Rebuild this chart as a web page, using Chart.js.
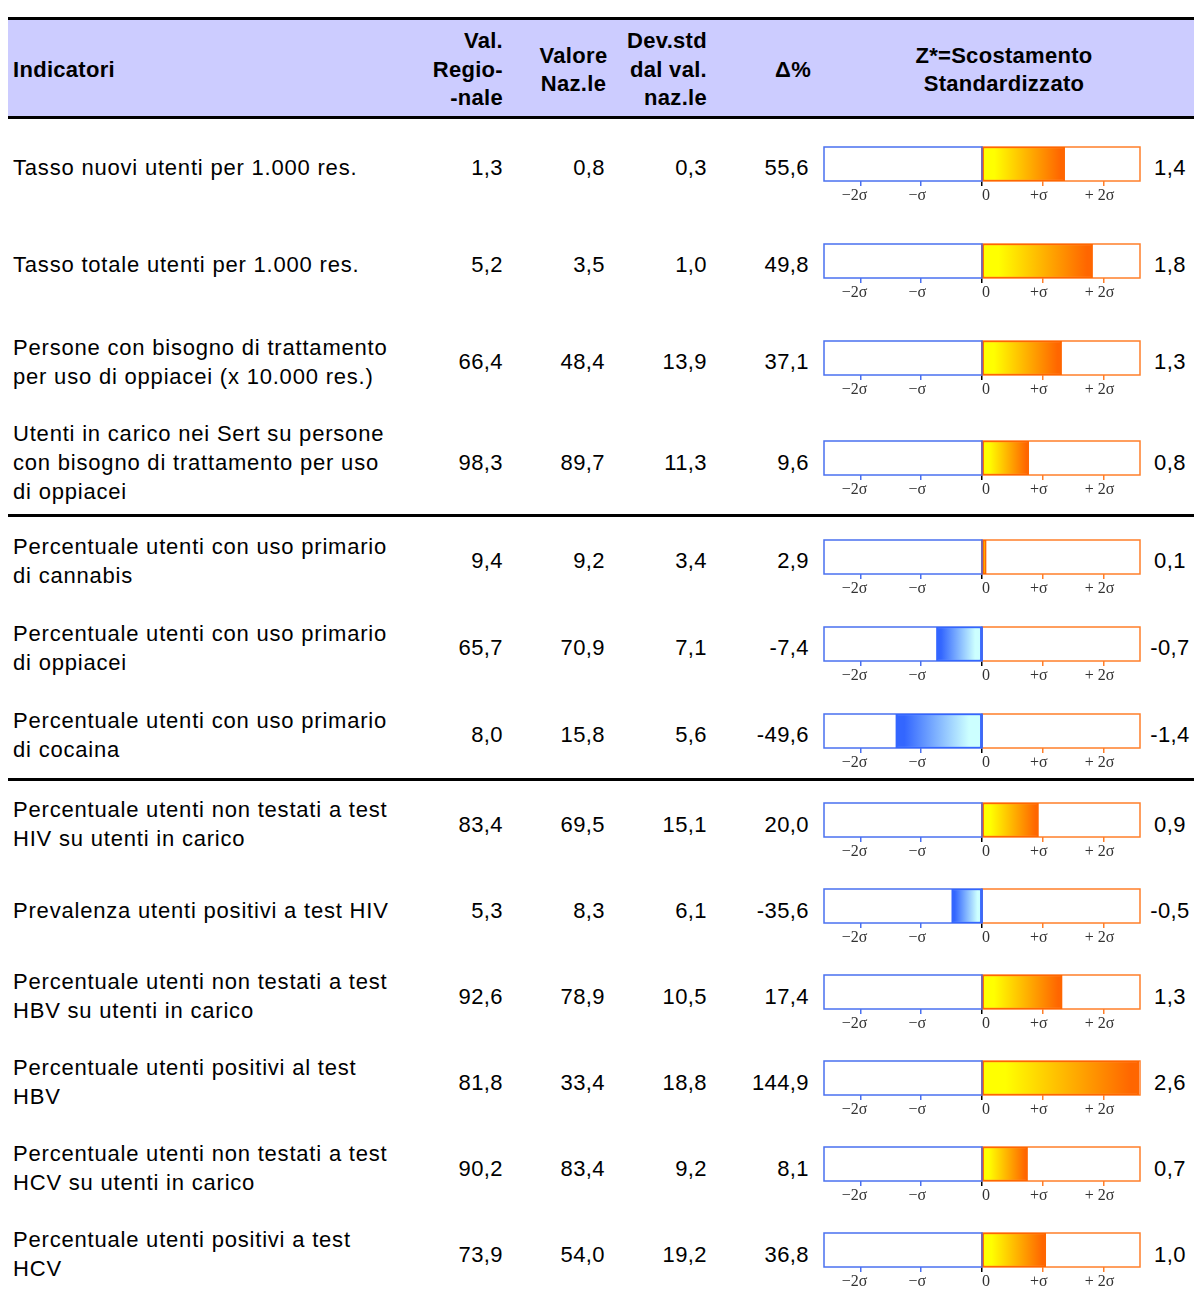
<!DOCTYPE html>
<html lang="it">
<head>
<meta charset="utf-8">
<title>Scostamento standardizzato</title>
<script src="https://cdn.jsdelivr.net/npm/chart.js@4.4.1/dist/chart.umd.min.js"></script>
<style>
  html, body { margin: 0; padding: 0; background: #fff; }
  body {
    position: relative; width: 1194px; height: 1289px; overflow: hidden;
    font-family: "Liberation Sans", Arial, sans-serif; color: #000;
  }
  .rule { position: absolute; left: 8px; right: 0; height: 3px; background: #000; }
  .head { position: absolute; left: 8px; right: 0; top: 20px; height: 96px; background: #ccccff; }
  .h {
    position: absolute; top: 22px; height: 96px; display: flex; align-items: center;
    font-weight: bold; font-size: 22px; line-height: 28.5px; letter-spacing: 0.3px; white-space: nowrap;
  }
  .cell {
    position: absolute; display: flex; align-items: center; white-space: nowrap;
    font-size: 22px; line-height: 29px;
  }
  .lab { left: 13px; width: 420px; letter-spacing: 0.8px; }
  .num { width: 100px; justify-content: flex-end; letter-spacing: 0.4px; }
  .zval { left: 1140px; width: 60px; justify-content: center; letter-spacing: 0.4px; }
  canvas { position: absolute; left: 812px; }
</style>
</head>
<body>
<div class="rule" style="top:17px"></div>
<div class="head"></div>
<div class="rule" style="top:116px"></div>

<div class="h" style="left:13px">Indicatori</div>
<div class="h" style="left:403px;width:100px;justify-content:flex-end;text-align:right">Val.<br>Regio-<br>-nale</div>
<div class="h" style="left:523px;width:101px;justify-content:center;text-align:center">Valore<br>Naz.le</div>
<div class="h" style="left:607px;width:100px;justify-content:flex-end;text-align:right">Dev.std<br>dal val.<br>naz.le</div>
<div class="h" style="left:711px;width:100px;justify-content:flex-end">&Delta;%</div>
<div class="h" style="left:812px;width:384px;justify-content:center;text-align:center">Z*=Scostamento<br>Standardizzato</div>

<script>
// dati della tabella
const indicators = [
  ["Tasso nuovi utenti per 1.000 res."],
  ["Tasso totale utenti per 1.000 res."],
  ["Persone con bisogno di trattamento", "per uso di oppiacei (x 10.000 res.)"],
  ["Utenti in carico nei Sert su persone", "con bisogno di trattamento per uso", "di oppiacei"],
  ["Percentuale utenti con uso primario", "di cannabis"],
  ["Percentuale utenti con uso primario", "di oppiacei"],
  ["Percentuale utenti con uso primario", "di cocaina"],
  ["Percentuale utenti non testati a test", "HIV su utenti in carico"],
  ["Prevalenza utenti positivi a test HIV"],
  ["Percentuale utenti non testati a test", "HBV su utenti in carico"],
  ["Percentuale utenti positivi al test", "HBV"],
  ["Percentuale utenti non testati a test", "HCV su utenti in carico"],
  ["Percentuale utenti positivi a test", "HCV"]
];
const groupSizes = [4, 3, 6];
const valRegionale = [1.3, 5.2, 66.4, 98.3, 9.4, 65.7, 8.0, 83.4, 5.3, 92.6, 81.8, 90.2, 73.9];
const valNazionale = [0.8, 3.5, 48.4, 89.7, 9.2, 70.9, 15.8, 69.5, 8.3, 78.9, 33.4, 83.4, 54.0];
const devStd = [0.3, 1.0, 13.9, 11.3, 3.4, 7.1, 5.6, 15.1, 6.1, 10.5, 18.8, 9.2, 19.2];
const deltaPct = [55.6, 49.8, 37.1, 9.6, 2.9, -7.4, -49.6, 20.0, -35.6, 17.4, 144.9, 8.1, 36.8];
const zScore = [1.4, 1.8, 1.3, 0.8, 0.1, -0.7, -1.4, 0.9, -0.5, 1.3, 2.6, 0.7, 1.0];
// lunghezza delle barre (Z non arrotondato)
const zBar = [1.36, 1.82, 1.31, 0.77, 0.07, -0.75, -1.42, 0.93, -0.50, 1.32, 2.58, 0.75, 1.05];
const sigmaTicks = [-2, -1, 0, 1, 2];
const sigmaLabels = ["\u22122\u03c3", "\u2212\u03c3", "0", "+\u03c3", "+ 2\u03c3"];

// layout
const rowHeights = [97, 97, 97, 104, 87, 87, 87, 86, 86, 86, 86, 86, 86];
const BLUE = "#4a70f0", ORANGE = "#ff7f2a";
// piccoli spostamenti delle etichette rispetto alla tacca, come nell'originale
const labelPad = ["\u00a0", "", "\u2002\u2002", "", ""];

const fmt = (v) => v.toFixed(1).replace(".", ",");

// riquadro con metà sinistra blu e metà destra arancio
const sigmaBox = {
  id: "sigmaBox",
  beforeDatasetsDraw(chart) {
    const { ctx, chartArea: a, scales: { x } } = chart;
    const x0 = x.getPixelForValue(0);
    ctx.save();
    ctx.lineWidth = 1.5;
    ctx.strokeStyle = ORANGE;
    ctx.strokeRect(x0, a.top, a.right - x0, a.height);
    ctx.strokeStyle = BLUE;
    ctx.strokeRect(a.left, a.top, x0 - a.left, a.height);
    ctx.restore();
  },
  afterDatasetsDraw(chart) {
    const { ctx, chartArea: a, scales: { x } } = chart;
    const x0 = x.getPixelForValue(0);
    ctx.save();
    ctx.lineWidth = 1.5;
    ctx.strokeStyle = chart.$z >= 0 ? "#7a62a8" : "#3366ff";
    ctx.beginPath();
    ctx.moveTo(x0, a.top);
    ctx.lineTo(x0, a.bottom);
    ctx.stroke();
    ctx.restore();
  }
};

function addCell(cls, left, top, h, html) {
  const d = document.createElement("div");
  d.className = "cell " + cls;
  if (left !== null) d.style.left = left + "px";
  d.style.top = top + "px";
  d.style.height = h + "px";
  d.innerHTML = html;
  document.body.appendChild(d);
}

function drawBar(i, center) {
  const z = zBar[i];
  const cv = document.createElement("canvas");
  cv.width = 340;
  cv.height = 62;
  cv.style.top = (center - 25) + "px";
  document.body.appendChild(cv);

  const chart = new Chart(cv, {
    type: "bar",
    data: {
      labels: [""],
      datasets: [{
        data: [[0, z]],
        backgroundColor: (c) => {
          const ch = c.chart;
          if (!ch.chartArea) return z >= 0 ? "#ffcc00" : "#99ccff";
          const xs = ch.scales.x;
          const p0 = xs.getPixelForValue(0), p1 = xs.getPixelForValue(z);
          const g = ch.ctx.createLinearGradient(Math.min(p0, p1), 0, Math.max(p0, p1), 0);
          if (z >= 0) {
            g.addColorStop(0, "#ffff00");
            g.addColorStop(0.15, "#ffff00");
            g.addColorStop(0.95, "#ff6600");
            g.addColorStop(1, "#ff6600");
          } else {
            g.addColorStop(0, "#3366ff");
            g.addColorStop(0.1, "#3366ff");
            g.addColorStop(0.85, "#ccffff");
            g.addColorStop(1, "#ccffff");
          }
          return g;
        },
        borderColor: z >= 0 ? "#ff6600" : "#3366ff",
        borderWidth: 1.5,
        borderSkipped: false,
        barPercentage: 1,
        categoryPercentage: 1
      }]
    },
    options: {
      indexAxis: "y",
      responsive: false,
      animation: false,
      layout: { padding: { left: 12, right: 12, top: 4, bottom: 0 } },
      plugins: { legend: { display: false }, tooltip: { enabled: false } },
      scales: {
        x: {
          type: "linear",
          min: -2.6,
          max: 2.6,
          afterBuildTicks: (s) => { s.ticks = sigmaTicks.map((v) => ({ value: v })); },
          afterFit: (s) => { s.height = 24; },
          ticks: {
            callback: (v, idx) => idx === 2 ? labelPad[idx] + sigmaLabels[idx] : sigmaLabels[idx] + labelPad[idx],
            font: { family: '"Liberation Serif", "DejaVu Serif", serif', size: 16 },
            color: "#333",
            padding: 0,
            labelOffset: -4,
            maxRotation: 0,
            autoSkip: false
          },
          grid: {
            drawOnChartArea: false,
            drawTicks: true,
            tickLength: 5,
            lineWidth: 1.5,
            color: (c) => {
              const v = c.tick ? c.tick.value : 0;
              return v < 0 ? BLUE : v > 0 ? ORANGE : "#000";
            }
          },
          border: { display: false }
        },
        y: { display: false }
      }
    },
    plugins: [sigmaBox]
  });
  chart.$z = z;
  chart.draw();
}

let y = 119, i = 0;
groupSizes.forEach((n, gi) => {
  for (let k = 0; k < n; k++, i++) {
    const h = rowHeights[i];
    addCell("lab", null, y, h, indicators[i].join("<br>"));
    addCell("num", 403, y, h, fmt(valRegionale[i]));
    addCell("num", 505, y, h, fmt(valNazionale[i]));
    addCell("num", 607, y, h, fmt(devStd[i]));
    addCell("num", 709, y, h, fmt(deltaPct[i]));
    addCell("zval", null, y, h, fmt(zScore[i]));
    drawBar(i, y + h / 2);
    y += h;
  }
  if (gi < groupSizes.length - 1) {
    const r = document.createElement("div");
    r.className = "rule";
    r.style.top = y + "px";
    document.body.appendChild(r);
    y += 3;
  }
});
</script>
</body>
</html>
